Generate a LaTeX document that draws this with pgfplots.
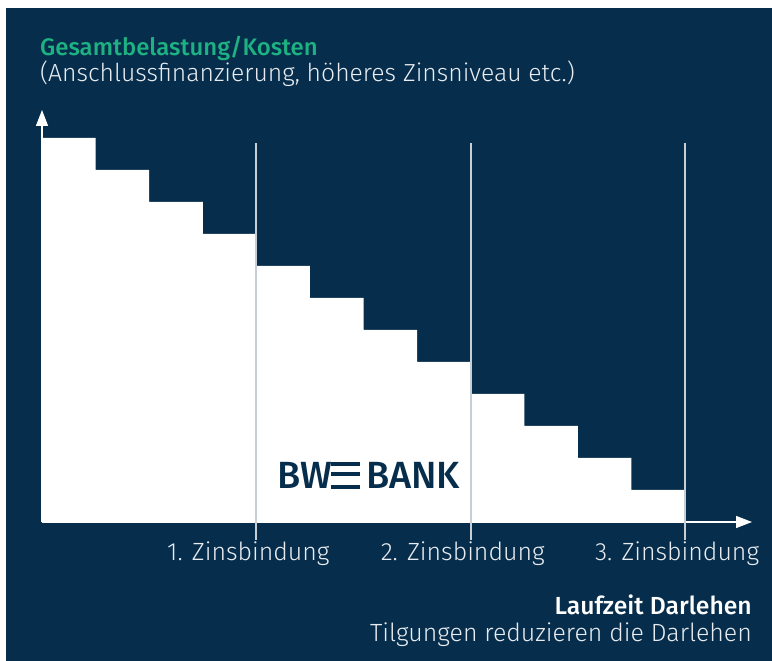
\documentclass[border=0pt]{standalone}
\usepackage{pgfplots}
\pgfplotsset{compat=1.18}
\usepackage{fontspec}
\setmainfont{Fira Sans}[UprightFont=* Light, BoldFont=* Medium]
\usetikzlibrary{arrows.meta}
\definecolor{navy}{RGB}{6,46,76}
\definecolor{bwgreen}{RGB}{30,178,130}
\definecolor{lgray}{RGB}{200,206,212}
\definecolor{txt}{RGB}{232,236,240}
\begin{document}
\begin{tikzpicture}[x=1bp,y=1bp]
\fill[white] (0,0) rectangle (772,661);
\fill[navy] (6,0) rectangle (772,653);
\node[anchor=base west, inner sep=0, text=bwgreen, font=\fontsize{24}{28}\selectfont\bfseries] at (40,605) {Gesamtbelastung/Kosten};
\node[anchor=base west, inner sep=0, text=txt, font=\fontsize{24.8}{28}\selectfont] at (40,579) {(Anschlussfinanzierung, höheres Zinsniveau etc.)};
\node[anchor=base east, inner sep=0, text=white, font=\fontsize{24.8}{28}\selectfont\bfseries] at (752,46) {Laufzeit Darlehen};
\node[anchor=base east, inner sep=0, text=txt, font=\fontsize{25}{28}\selectfont] at (752,19) {Tilgungen reduzieren die Darlehen};
\begin{axis}[at={(42bp,139bp)}, anchor=south west, scale only axis,
  width=710bp, height=412bp,
  xmin=0, xmax=13.25, ymin=0, ymax=12.875,
  axis lines=left,
  axis line style={white, line width=1.3bp, -{Triangle[width=12bp,length=16bp]}},
  ytick=\empty,
  xtick={4,8,12},
  xticklabels={1. Zinsbindung,2. Zinsbindung,3. Zinsbindung},
  major tick length=0,
  xticklabel style={anchor=base, yshift=-39bp, xshift=-8bp, text=txt, font=\fontsize{25}{28}\selectfont, inner sep=0},
  clip=false]
\addplot[fill=white, draw=none, const plot] coordinates {(0,12)(1,11)(2,10)(3,9)(4,8)(5,7)(6,6)(7,5)(8,4)(9,3)(10,2)(11,1)(12,1)} \closedcycle;
\addplot[lgray, line width=1.8bp] coordinates {(4,-0.56)(4,11.84)};
\addplot[lgray, line width=1.8bp] coordinates {(8,-0.56)(8,11.84)};
\addplot[lgray, line width=1.8bp] coordinates {(12,-0.56)(12,11.84)};
\end{axis}
% logo
\node[anchor=base west, inner sep=0, text=navy, font=\fontsize{38}{40}\selectfont\bfseries] at (277,172) {BW};
\node[anchor=base west, inner sep=0, text=navy, font=\fontsize{38}{40}\selectfont\bfseries] at (366,172) {BANK};
\fill[navy] (331,195) rectangle (360,199);
\fill[navy] (331,184.5) rectangle (360,188.5);
\fill[navy] (331,172) rectangle (360,176);
\end{tikzpicture}
\end{document}
